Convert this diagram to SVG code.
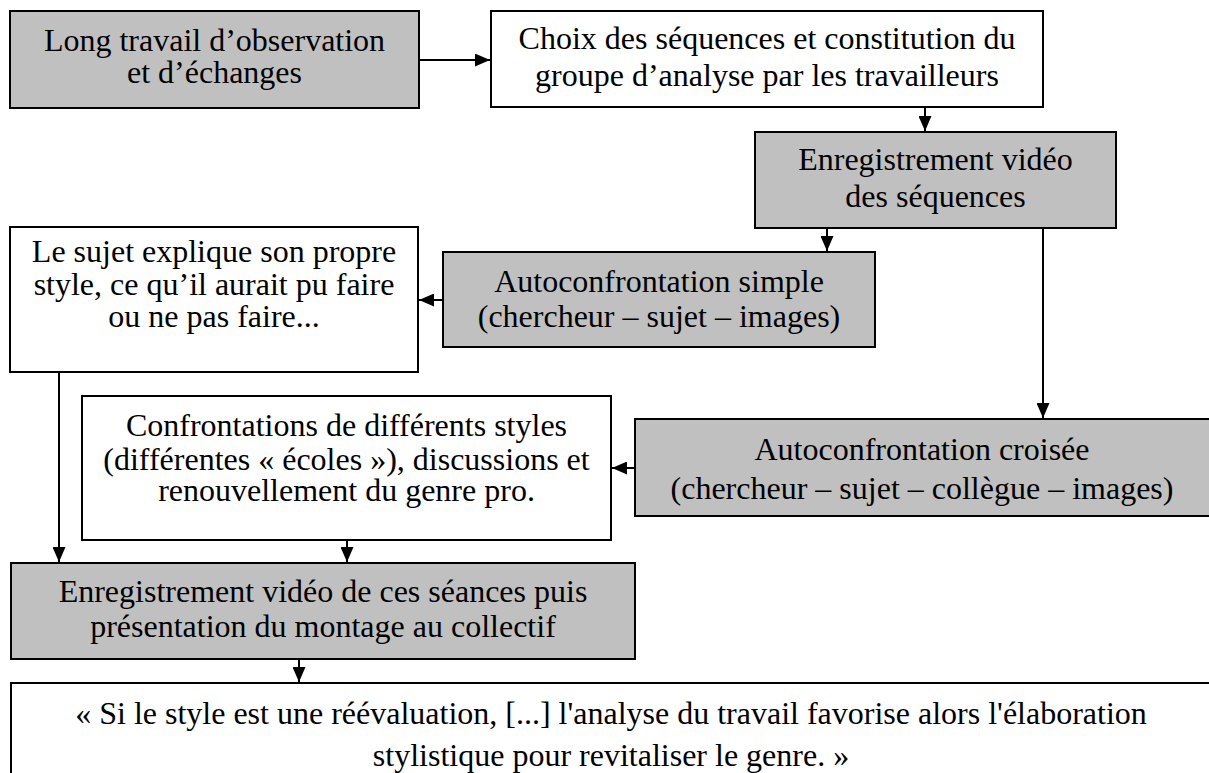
<svg xmlns="http://www.w3.org/2000/svg" width="1209" height="773" viewBox="0 0 1209 773">
<style>
.g{fill:#c0c0c0;stroke:#000;stroke-width:2}
.w{fill:#fff;stroke:#000;stroke-width:2}
text{font-family:"Liberation Serif","Times New Roman",serif;font-size:32px;fill:#000;text-anchor:middle}
.c{fill:none;stroke:#000;stroke-width:2}
</style>
<defs>
<marker id="ah" markerWidth="15" markerHeight="13" refX="15" refY="6.5" orient="auto" markerUnits="userSpaceOnUse"><path d="M0,0 L15,6.5 L0,13 z" fill="#000"/></marker>
</defs>
<rect width="1209" height="773" fill="#fff"/>
<g id="n1"><rect class="g" x="10" y="11" width="409" height="97"/><text x="214.5" y="51">Long travail d’observation</text><text x="214.5" y="83">et d’échanges</text></g>
<g id="n2"><rect class="w" x="491" y="11" width="552" height="96"/><text x="767" y="49">Choix des séquences et constitution du</text><text x="767" y="86">groupe d’analyse par les travailleurs</text></g>
<g id="n3"><rect class="g" x="755" y="132" width="361" height="96"/><text x="935.5" y="170">Enregistrement vidéo</text><text x="935.5" y="207">des séquences</text></g>
<g id="n4"><rect class="w" x="10" y="227" width="408" height="145"/><text x="214" y="262">Le sujet explique son propre</text><text x="214" y="295">style, ce qu’il aurait pu faire</text><text x="214" y="327">ou ne pas faire...</text></g>
<g id="n5"><rect class="g" x="443" y="252" width="432" height="95"/><text x="659" y="292">Autoconfrontation simple</text><text x="659" y="327">(chercheur – sujet – images)</text></g>
<g id="n6"><rect class="w" x="82" y="396" width="529" height="144"/><text x="346.5" y="436">Confrontations de différents styles</text><text x="346.5" y="470">(différentes « écoles »), discussions et</text><text x="346.5" y="501">renouvellement du genre pro.</text></g>
<g id="n7"><rect class="g" x="635" y="419" width="580" height="97"/><text x="922" y="460">Autoconfrontation croisée</text><text x="922" y="499">(chercheur – sujet – collègue – images)</text></g>
<g id="n8"><rect class="g" x="11" y="563" width="624" height="96"/><text x="323" y="602">Enregistrement vidéo de ces séances puis</text><text x="323" y="637">présentation du montage au collectif</text></g>
<g id="n9"><rect class="w" x="11" y="683" width="1205" height="100"/><text x="611" y="724">« Si le style est une réévaluation, [...] l'analyse du travail favorise alors l'élaboration</text><text x="611" y="766">stylistique pour revitaliser le genre. »</text></g>
<g id="connectors">
<path class="c" d="M419,60 H490" marker-end="url(#ah)"/>
<path class="c" d="M925,107 V131" marker-end="url(#ah)"/>
<path class="c" d="M827,228 V251" marker-end="url(#ah)"/>
<path class="c" d="M443,300 H419" marker-end="url(#ah)"/>
<path class="c" d="M1043,228 V418" marker-end="url(#ah)"/>
<path class="c" d="M635,468 H612" marker-end="url(#ah)"/>
<path class="c" d="M59,372 V562" marker-end="url(#ah)"/>
<path class="c" d="M347,540 V562" marker-end="url(#ah)"/>
<path class="c" d="M299,659 V682" marker-end="url(#ah)"/>
</g>
</svg>
